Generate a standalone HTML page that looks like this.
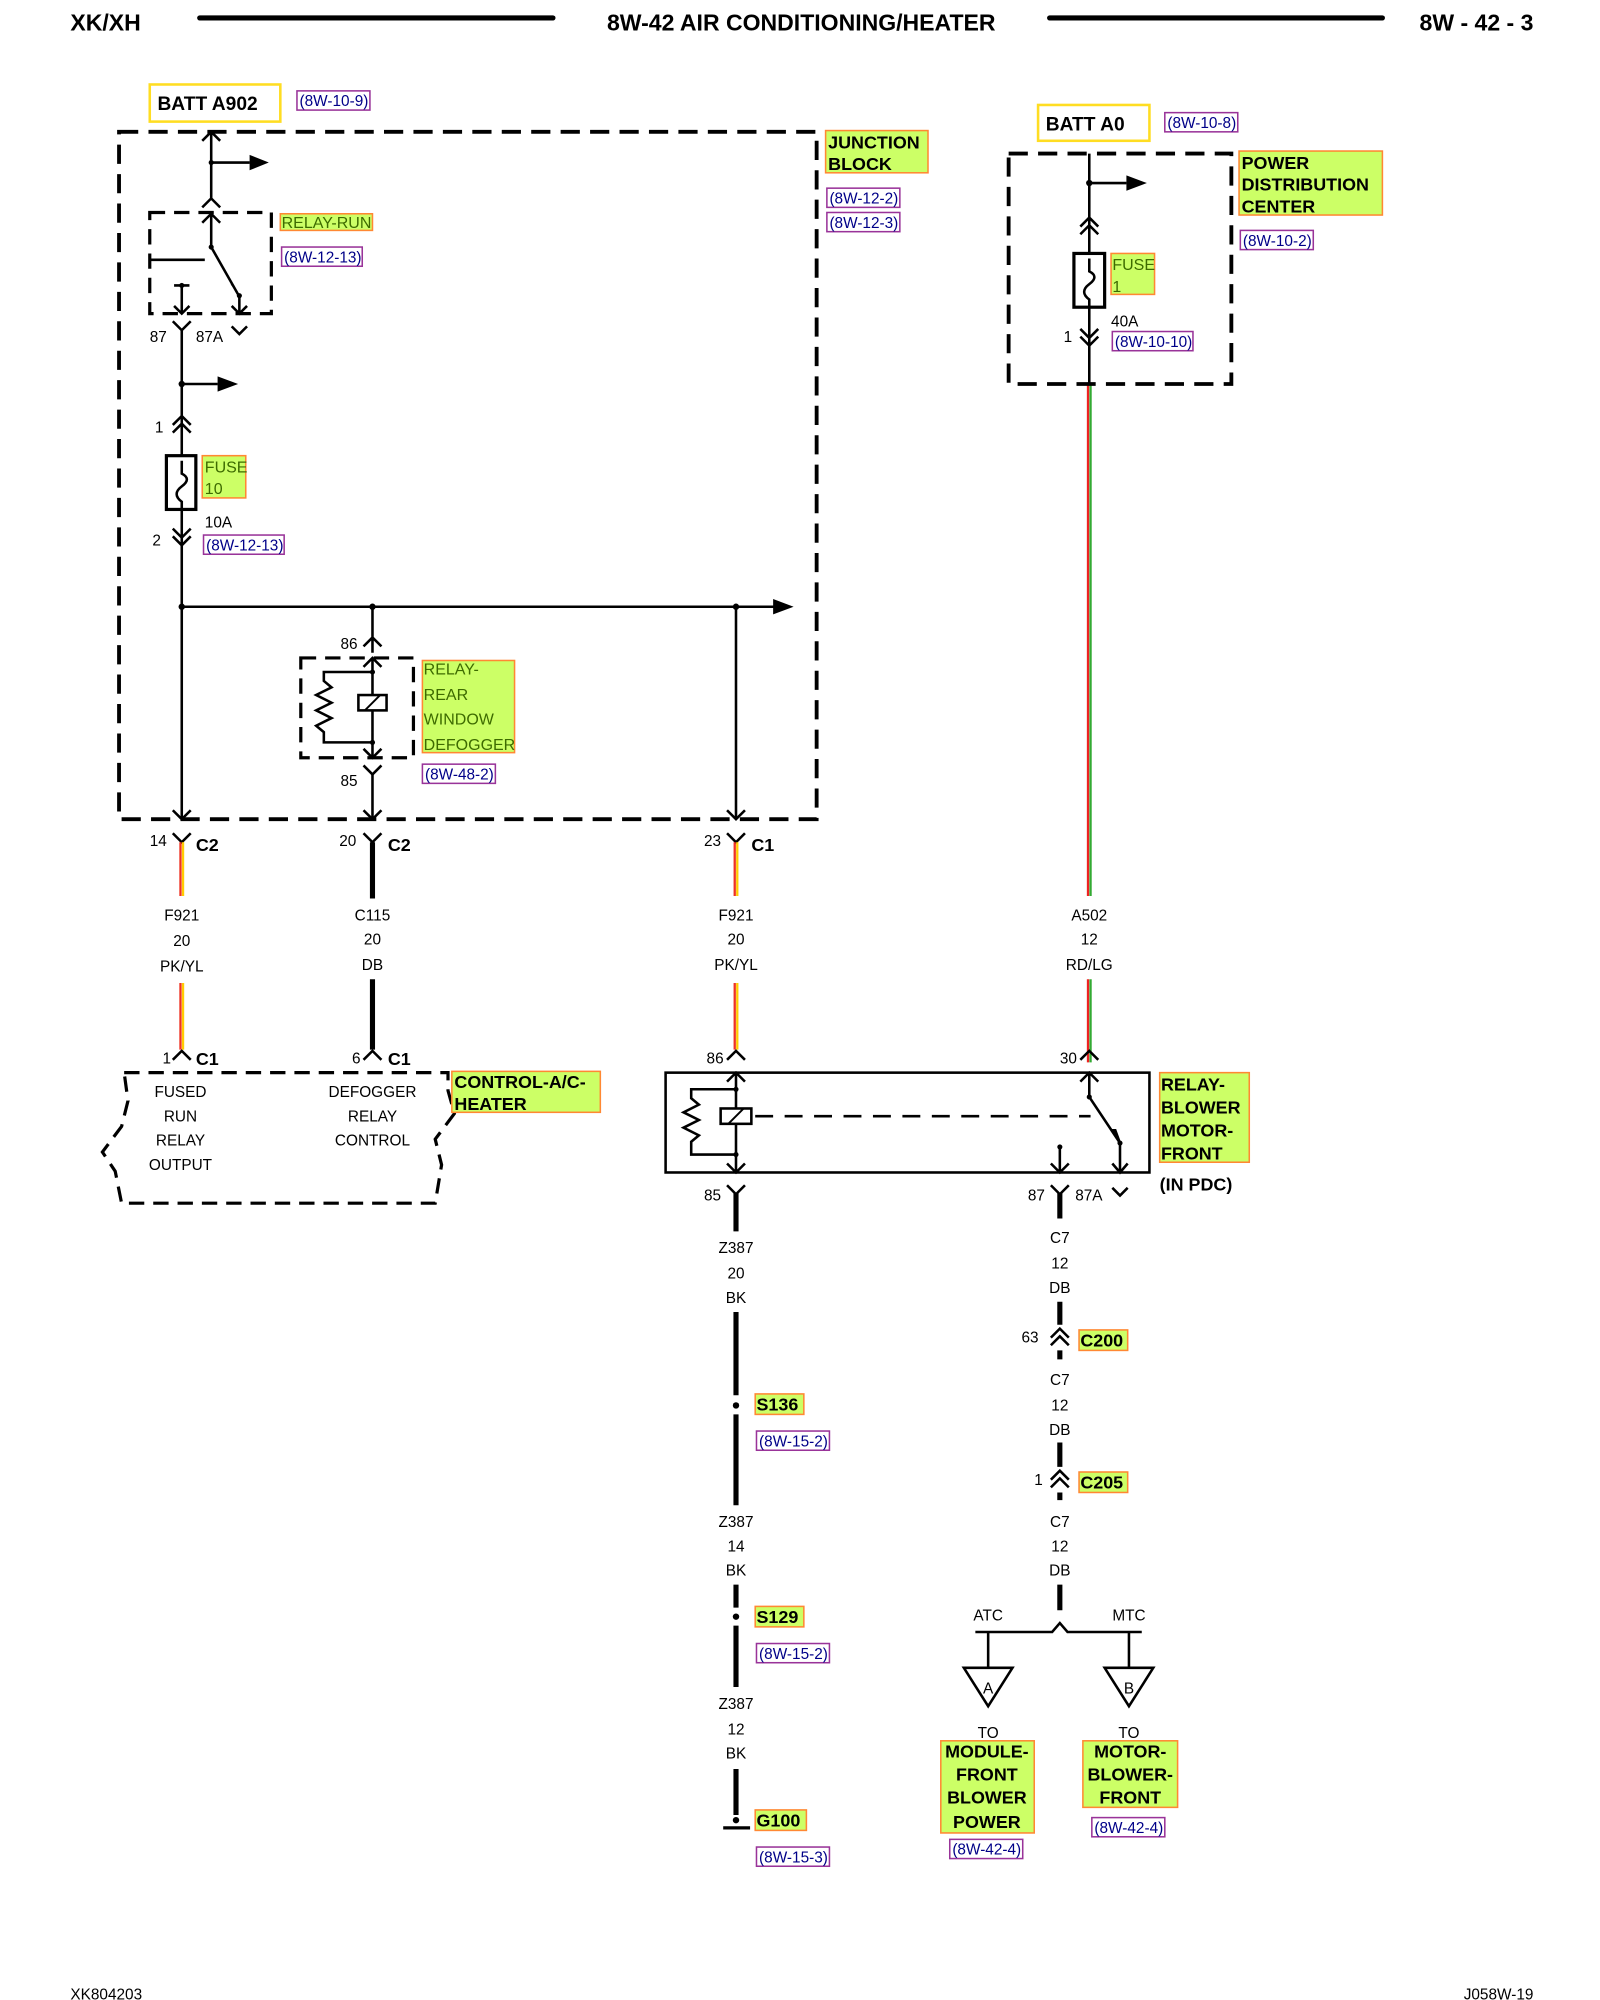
<!DOCTYPE html>
<html><head><meta charset="utf-8"><style>
html,body{margin:0;padding:0;background:#fff}
svg{display:block}
text{font-family:"Liberation Sans",Arial,sans-serif}
.t{font-size:12px;fill:#000}
.b{font-weight:bold}
.hd{font-size:18px;font-weight:bold}
.hl{fill:#ccff66;stroke:#ff8833;stroke-width:1.2}
.ht{font-size:14px;font-weight:bold;fill:#000}
.hg{font-size:12.5px;fill:#3d6b00}
.rf{fill:none;stroke:#993399;stroke-width:1.2}
.rt{font-size:12px;fill:#000088}
.w{stroke:#000;stroke-width:2;fill:none}
.wt{stroke:#000;stroke-width:4;fill:none}
.d{stroke:#000;stroke-width:3;fill:none;stroke-dasharray:15 8}
.d2{stroke:#000;stroke-width:2.5;fill:none;stroke-dasharray:12 7}
</style></head><body>
<svg width="1600" height="2000" viewBox="0 0 1250 1562.5" xmlns="http://www.w3.org/2000/svg">
<!-- header -->
<text x="55" y="24" class="hd">XK/XH</text>
<line x1="156" y1="14" x2="432" y2="14" stroke="#000" stroke-width="4" stroke-linecap="round"/>
<text x="626" y="24" class="hd" text-anchor="middle">8W-42 AIR CONDITIONING/HEATER</text>
<line x1="820" y1="14" x2="1080" y2="14" stroke="#000" stroke-width="4" stroke-linecap="round"/>
<text x="1198" y="24" class="hd" text-anchor="end">8W - 42 - 3</text>

<!-- BATT A902 -->
<rect x="117" y="66" width="102" height="29" fill="none" stroke="#ffdd22" stroke-width="2"/>
<text x="123" y="86" class="b" font-size="15">BATT A902</text>
<rect x="232" y="71" width="57" height="15" class="rf"/><text x="234" y="83" class="rt">(8W-10-9)</text>

<!-- Junction block -->
<rect x="93" y="103" width="545" height="537" class="d"/>
<rect x="645" y="102" width="80" height="33" class="hl"/>
<text x="647" y="116" class="ht">JUNCTION</text><text x="647" y="133" class="ht">BLOCK</text>
<rect x="646" y="147" width="57" height="15" class="rf"/><text x="648" y="159" class="rt">(8W-12-2)</text>
<rect x="646" y="166" width="57" height="15" class="rf"/><text x="648" y="178" class="rt">(8W-12-3)</text>

<!-- top wire x165 -->
<path class="w" d="M165 103V155M158 110L165 103L172 110M158 162L165 155L172 162M165 127H195"/>
<path d="M195 121L210 127L195 133Z"/><circle cx="165" cy="127" r="2"/>
<!-- relay run -->
<rect x="117" y="166" width="95" height="79" class="d2"/>
<path class="w" d="M165 167V193L186 230M158 174L165 167L172 174M117 203H160M142 245V223M136 223H148M136 239L142 245L148 239M187 230V245M181 239L187 245L193 239"/>
<path d="M180 222L188 232L183 224Z"/><circle cx="165" cy="193" r="2"/><circle cx="187" cy="231" r="2"/><circle cx="142" cy="223" r="2"/>
<rect x="219" y="167" width="72" height="13" class="hl"/>
<text x="220" y="178" class="hg">RELAY-RUN</text>
<rect x="220" y="193" width="63" height="15" class="rf"/><text x="222" y="205" class="rt">(8W-12-13)</text>
<text x="117" y="267" class="t">87</text><text x="153" y="267" class="t">87A</text>
<path class="w" d="M135 251L142 258L149 251M181 255L187 261L193 255M142 258V640M142 300H170"/>
<path d="M170 294L186 300L170 306Z"/><circle cx="142" cy="300" r="2.5"/>
<!-- fuse 10 -->
<path class="w" d="M135 332L142 325L149 332M135 338L142 331L149 338"/>
<text x="121" y="338" class="t">1</text>
<rect x="130" y="356" width="23" height="42" fill="#fff" stroke="#000" stroke-width="2.5"/>
<path class="w" d="M142 360V370Q150 374 142 380Q134 386 142 392V398"/>
<rect x="158" y="356" width="34" height="33" class="hl"/>
<text x="160" y="369" class="hg">FUSE</text><text x="160" y="386" class="hg">10</text>
<text x="160" y="412" class="t">10A</text>
<text x="119" y="426" class="t">2</text>
<path class="w" d="M135 413L142 420L149 413M135 419L142 426L149 419"/>
<rect x="159" y="418" width="63" height="15" class="rf"/><text x="161" y="430" class="rt">(8W-12-13)</text>
<!-- bus -->
<path class="w" d="M142 474H605M575 474V640"/>
<path d="M604 468L620 474L604 480Z"/>
<circle cx="142" cy="474" r="2.5"/><circle cx="291" cy="474" r="2.5"/><circle cx="575" cy="474" r="2.5"/>
<!-- defogger relay -->
<path class="w" d="M291 474V510M284 505L291 498L298 505M291 605V640"/>
<text x="266" y="507" class="t">86</text>
<rect x="235" y="514" width="88" height="78" class="d2"/>
<path class="w" d="M291 514V592M284 521L291 514L298 521M284 585L291 592L298 585M291 525H253V532L259 537L247 543L259 549L247 555L259 561L247 567L253 572V580H291"/>
<rect x="280" y="543" width="22" height="12" fill="#fff" stroke="#000" stroke-width="2"/><line x1="285" y1="555" x2="297" y2="543" stroke="#000" stroke-width="1.5"/>
<circle cx="291" cy="525" r="2"/><circle cx="291" cy="580" r="2"/>
<rect x="330" y="516" width="72" height="72" class="hl"/>
<text x="331" y="527" class="hg">RELAY-</text><text x="331" y="547" class="hg">REAR</text><text x="331" y="566" class="hg">WINDOW</text><text x="331" y="586" class="hg">DEFOGGER</text>
<text x="266" y="614" class="t">85</text>
<path class="w" d="M284 598L291 605L298 598"/>
<rect x="330" y="597" width="57" height="15" class="rf"/><text x="332" y="609" class="rt">(8W-48-2)</text>
<path class="w" d="M135 633L142 640L149 633M284 633L291 640L298 633M568 633L575 640L582 633"/>

<!-- C connectors -->
<path class="w" d="M135 651L142 658L149 651M284 651L291 658L298 651M568 651L575 658L582 651"/>
<text x="117" y="661" class="t">14</text><text x="153" y="665" class="b" font-size="14">C2</text>
<text x="265" y="661" class="t">20</text><text x="303" y="665" class="b" font-size="14">C2</text>
<text x="550" y="661" class="t">23</text><text x="587" y="665" class="b" font-size="14">C1</text>
<g stroke-width="1.8">
<path d="M141 658V700M141 768V820M574 658V700M574 768V820" stroke="#ee3322"/>
<path d="M143 658V700M143 768V820M576 658V700M576 768V820" stroke="#ffcc00"/>
<path d="M850 300V700M850 765V830" stroke="#ee2222"/>
<path d="M852 300V700M852 765V830" stroke="#33aa33"/>
</g>
<path class="wt" d="M291 658V702M291 765V820"/>
<g class="t" text-anchor="middle">
<text x="142" y="719">F921</text><text x="142" y="739">20</text><text x="142" y="759">PK/YL</text>
<text x="291" y="719">C115</text><text x="291" y="738">20</text><text x="291" y="758">DB</text>
<text x="575" y="719">F921</text><text x="575" y="738">20</text><text x="575" y="758">PK/YL</text>
<text x="851" y="719">A502</text><text x="851" y="738">12</text><text x="851" y="758">RD/LG</text>
</g>
<path class="w" d="M135 828L142 821L149 828M284 828L291 821L298 828M568 828L575 821L582 828M844 828L851 821L858 828"/>
<text x="127" y="831" class="t">1</text><text x="153" y="832" class="b" font-size="14">C1</text>
<text x="275" y="831" class="t">6</text><text x="303" y="832" class="b" font-size="14">C1</text>
<text x="552" y="831" class="t">86</text><text x="828" y="831" class="t">30</text>

<!-- control module -->
<path class="d2" d="M97 838H350L350 852L355 870L340 890L345 910L340 940H95L90 915L80 900L95 880L100 860Z"/>
<g class="t" text-anchor="middle">
<text x="141" y="857">FUSED</text><text x="141" y="876">RUN</text><text x="141" y="895">RELAY</text><text x="141" y="914">OUTPUT</text>
<text x="291" y="857">DEFOGGER</text><text x="291" y="876">RELAY</text><text x="291" y="895">CONTROL</text>
</g>
<rect x="353" y="837" width="116" height="32" class="hl"/>
<text x="355" y="850" class="ht">CONTROL-A/C-</text><text x="355" y="867" class="ht">HEATER</text>

<!-- blower relay -->
<rect x="520" y="838" width="378" height="78" fill="none" stroke="#000" stroke-width="2"/>
<path class="w" d="M575 838V916M568 845L575 838L582 845M568 909L575 916L582 909M575 851H540V858L546 863L534 869L546 875L534 881L546 887L540 892V902H575"/>
<rect x="563" y="866" width="24" height="12" fill="#fff" stroke="#000" stroke-width="2"/><line x1="569" y1="878" x2="581" y2="866" stroke="#000" stroke-width="1.5"/>
<circle cx="575" cy="851" r="2"/><circle cx="575" cy="902" r="2"/>
<line x1="590" y1="872" x2="852" y2="872" stroke="#000" stroke-width="2" stroke-dasharray="14 9"/>
<path class="w" d="M851 838V857L875 893V916M844 845L851 838L858 845M869 909L875 916L881 909M828 916V896M821 909L828 916L835 909"/>
<path d="M868 882L876 893L872 882Z"/><circle cx="851" cy="857" r="2"/><circle cx="875" cy="893" r="2"/><circle cx="828" cy="896" r="2"/>
<rect x="906" y="838" width="70" height="70" class="hl"/>
<text x="907" y="852" class="ht">RELAY-</text><text x="907" y="870" class="ht">BLOWER</text><text x="907" y="888" class="ht">MOTOR-</text><text x="907" y="906" class="ht">FRONT</text>
<text x="906" y="930" class="b" font-size="14">(IN PDC)</text>

<!-- ground chain -->
<text x="550" y="938" class="t">85</text>
<path class="w" d="M568 926L575 933L582 926"/>
<path class="wt" d="M575 932V962M575 1025V1090M575 1105V1176M575 1238V1256M575 1270V1318M575 1382V1418"/>
<g class="t" text-anchor="middle">
<text x="575" y="979">Z387</text><text x="575" y="999">20</text><text x="575" y="1018">BK</text>
<text x="575" y="1193">Z387</text><text x="575" y="1212">14</text><text x="575" y="1231">BK</text>
<text x="575" y="1335">Z387</text><text x="575" y="1355">12</text><text x="575" y="1374">BK</text>
</g>
<circle cx="575" cy="1098" r="2.5"/><circle cx="575" cy="1263" r="2.5"/><circle cx="575" cy="1422" r="2.5"/>
<line x1="565" y1="1428" x2="586" y2="1428" stroke="#000" stroke-width="2.5"/>
<rect x="590" y="1089" width="38" height="16" class="hl"/><text x="591" y="1102" class="ht">S136</text>
<rect x="591" y="1118" width="57" height="15" class="rf"/><text x="593" y="1130" class="rt">(8W-15-2)</text>
<rect x="590" y="1255" width="38" height="16" class="hl"/><text x="591" y="1268" class="ht">S129</text>
<rect x="591" y="1284" width="57" height="15" class="rf"/><text x="593" y="1296" class="rt">(8W-15-2)</text>
<rect x="590" y="1414" width="40" height="16" class="hl"/><text x="591" y="1427" class="ht">G100</text>
<rect x="591" y="1443" width="57" height="15" class="rf"/><text x="593" y="1455" class="rt">(8W-15-3)</text>

<!-- right chain -->
<text x="803" y="938" class="t">87</text><text x="840" y="938" class="t">87A</text>
<path class="w" d="M821 926L828 933L835 926M869 928L875 934L881 928"/>
<path class="wt" d="M828 932V952M828 1017V1035M828 1055V1062M828 1127V1146M828 1166V1172M828 1238V1258"/>
<g class="t" text-anchor="middle">
<text x="828" y="971">C7</text><text x="828" y="991">12</text><text x="828" y="1010">DB</text>
<text x="828" y="1082">C7</text><text x="828" y="1102">12</text><text x="828" y="1121">DB</text>
<text x="828" y="1193">C7</text><text x="828" y="1212">12</text><text x="828" y="1231">DB</text>
</g>
<path class="w" d="M821 1045L828 1038L835 1045M821 1051L828 1044L835 1051M821 1156L828 1149L835 1156M821 1162L828 1155L835 1162"/>
<text x="798" y="1049" class="t">63</text><text x="808" y="1160" class="t">1</text>
<rect x="843" y="1039" width="38" height="16" class="hl"/><text x="844" y="1052" class="ht">C200</text>
<rect x="843" y="1150" width="38" height="16" class="hl"/><text x="844" y="1163" class="ht">C205</text>
<path class="w" d="M762 1275H822L828 1268L834 1275H892M772 1275V1302M882 1275V1302"/>
<text x="772" y="1266" class="t" text-anchor="middle">ATC</text><text x="882" y="1266" class="t" text-anchor="middle">MTC</text>
<path class="w" d="M753 1303H791L772 1333Z M863 1303H901L882 1333Z"/>
<text x="772" y="1323" class="t" text-anchor="middle">A</text><text x="882" y="1323" class="t" text-anchor="middle">B</text>
<text x="772" y="1358" class="t" text-anchor="middle">TO</text><text x="882" y="1358" class="t" text-anchor="middle">TO</text>
<rect x="735" y="1360" width="73" height="72" class="hl"/>
<rect x="846" y="1360" width="74" height="52" class="hl"/>
<g class="ht" text-anchor="middle"><text x="771" y="1373">MODULE-</text><text x="771" y="1391">FRONT</text><text x="771" y="1409">BLOWER</text><text x="771" y="1428">POWER</text>
<text x="883" y="1373">MOTOR-</text><text x="883" y="1391">BLOWER-</text><text x="883" y="1409">FRONT</text></g>
<rect x="742" y="1437" width="57" height="15" class="rf"/><text x="744" y="1449" class="rt">(8W-42-4)</text>
<rect x="853" y="1420" width="57" height="15" class="rf"/><text x="855" y="1432" class="rt">(8W-42-4)</text>

<!-- PDC -->
<rect x="811" y="82" width="87" height="28" fill="none" stroke="#ffdd22" stroke-width="2"/>
<text x="817" y="102" class="b" font-size="15">BATT A0</text>
<rect x="910" y="88" width="57" height="15" class="rf"/><text x="912" y="100" class="rt">(8W-10-8)</text>
<rect x="788" y="120" width="174" height="180" class="d"/>
<path class="w" d="M851 120V300M851 143H880M844 177L851 170L858 177M844 183L851 176L858 183M844 257L851 264L858 257M844 263L851 270L858 263"/>
<path d="M880 137L896 143L880 149Z"/><circle cx="851" cy="143" r="2.5"/>
<rect x="839" y="198" width="24" height="42" fill="#fff" stroke="#000" stroke-width="2.5"/>
<path class="w" d="M851 202V212Q859 216 851 222Q843 228 851 234V240"/>
<rect x="868" y="198" width="34" height="32" class="hl"/>
<text x="869" y="211" class="hg">FUSE</text><text x="869" y="228" class="hg">1</text>
<text x="868" y="255" class="t">40A</text><text x="831" y="267" class="t">1</text>
<rect x="869" y="259" width="63" height="15" class="rf"/><text x="871" y="271" class="rt">(8W-10-10)</text>
<rect x="968" y="118" width="112" height="50" class="hl"/>
<text x="970" y="132" class="ht">POWER</text><text x="970" y="149" class="ht">DISTRIBUTION</text><text x="970" y="166" class="ht">CENTER</text>
<rect x="969" y="180" width="57" height="15" class="rf"/><text x="971" y="192" class="rt">(8W-10-2)</text>

<!-- footer -->
<text x="55" y="1562" class="t">XK804203</text>
<text x="1198" y="1562" class="t" text-anchor="end">J058W-19</text>
</svg>
</body></html>
